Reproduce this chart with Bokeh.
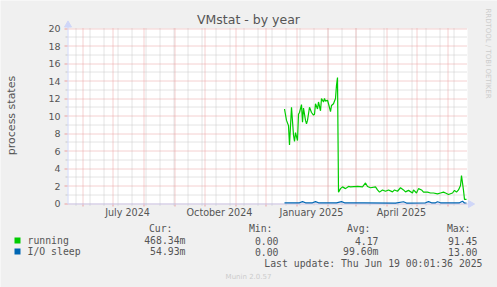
import math
import pandas as pd
from bokeh.plotting import figure
from bokeh.models import Range1d
from bokeh.core.properties import value
from bokeh.embed import file_html
from bokeh.resources import INLINE

# ---------------- data ----------------
title_text = "VMstat - by year"
y_label = "process states"
x_start = "2024-05-17"
x_end = "2025-06-21"
y_ticks = [0, 2, 4, 6, 8, 10, 12, 14, 16, 18, 20]
y_minor = [1, 3, 5, 7, 9, 11, 13, 15, 17, 19]
label_dates = ["2024-07-16", "2024-10-16", "2025-01-16", "2025-04-16"]
x_labels = ["July 2024", "October 2024", "January 2025", "April 2025"]

running_dates = ["2024-12-20", "2024-12-22", "2024-12-24", "2024-12-25", "2024-12-27", "2024-12-29", "2024-12-30", "2024-12-31",
                 "2025-01-02", "2025-01-03", "2025-01-04", "2025-01-06", "2025-01-07", "2025-01-08", "2025-01-10", "2025-01-11",
                 "2025-01-12", "2025-01-14", "2025-01-16", "2025-01-18", "2025-01-19", "2025-01-20", "2025-01-22", "2025-01-23",
                 "2025-01-25", "2025-01-26", "2025-01-28", "2025-01-29", "2025-01-30",
                 "2025-02-01", "2025-02-02", "2025-02-04", "2025-02-05", "2025-02-07", "2025-02-09", "2025-02-10", "2025-02-11",
                 "2025-02-12", "2025-02-14", "2025-02-16", "2025-02-19", "2025-02-22", "2025-02-24",
                 "2025-03-03", "2025-03-08", "2025-03-11", "2025-03-13", "2025-03-16", "2025-03-21", "2025-03-23", "2025-03-25",
                 "2025-03-28", "2025-03-31",
                 "2025-04-03", "2025-04-07", "2025-04-09", "2025-04-12", "2025-04-15", "2025-04-18", "2025-04-20", "2025-04-23",
                 "2025-04-27", "2025-04-28",
                 "2025-05-01", "2025-05-03", "2025-05-06", "2025-05-08", "2025-05-12", "2025-05-15", "2025-05-18", "2025-05-22",
                 "2025-05-25", "2025-05-28", "2025-05-30",
                 "2025-06-02", "2025-06-06", "2025-06-08", "2025-06-10", "2025-06-12", "2025-06-14", "2025-06-15", "2025-06-17",
                 "2025-06-18", "2025-06-20"]
running_values = [10.8, 9.5, 8.9, 6.7, 11.0, 7.8, 7.1, 8.1,
                  7.2, 10.2, 10.4, 11.3, 9.3, 10.9, 9.5, 9.1,
                  9.5, 11.0, 10.4, 10.1, 10.2, 11.4, 10.8, 11.6,
                  10.6, 12.0, 11.6, 12.0, 11.7,
                  11.8, 11.4, 10.5, 11.2, 11.4, 12.0, 13.5, 14.4,
                  1.3, 1.7, 1.9, 1.7, 1.95, 1.9,
                  1.95, 1.9, 2.35, 1.95, 1.8, 1.9, 1.55, 1.3,
                  1.55, 1.4,
                  1.55, 1.33, 1.55, 1.4, 1.8, 1.55, 1.33, 1.5,
                  1.2, 1.55,
                  1.2, 1.7, 1.55, 1.3, 1.3, 1.2, 1.2, 1.1,
                  1.2, 1.3, 1.2,
                  1.03, 1.2, 1.5, 1.3, 1.55, 2.05, 3.2, 1.5,
                  0.47, 0.47]

io_dates = ["2024-12-20", "2025-01-04", "2025-01-07", "2025-01-10", "2025-01-17", "2025-01-20", "2025-01-23",
            "2025-02-10", "2025-02-15", "2025-02-18", "2025-03-10", "2025-04-10", "2025-04-18", "2025-04-21",
            "2025-05-10", "2025-05-13", "2025-05-16", "2025-05-20", "2025-05-22", "2025-05-25", "2025-06-13",
            "2025-06-16", "2025-06-18", "2025-06-20"]
io_values = [0.08, 0.08, 0.22, 0.08, 0.08, 0.22, 0.08, 0.08, 0.22, 0.08, 0.08, 0.05, 0.2, 0.05,
             0.08, 0.22, 0.08, 0.08, 0.2, 0.08, 0.08, 0.25, 0.06, 0.06]

series_names = ["running", "I/O sleep"]
series_colors = ["#00CC00", "#0066B3"]
stat_headers = ["Cur:", "Min:", "Avg:", "Max:"]
cur_vals = ["468.34m", "54.93m"]
min_vals = ["0.00", "0.00"]
avg_vals = ["4.17", "99.60m"]
max_vals = ["91.45", "13.00"]
last_update = "Last update: Thu Jun 19 00:01:36 2025"
version_text = "Munin 2.0.57"
watermark = "RRDTOOL / TOBI OETIKER"

# ---------------- layout constants ----------------
W, H = 497, 287
FL, FT, FR, FB = 67, 28, 467, 203   # plot-area edges in canvas pixels (top-down)
FONT = value("DejaVu Sans")
MONO = value("DejaVu Sans Mono")
TXT = "#555555"
AXIS_C = "#CFD6F8"
MGRID = "#EBA0A0"
GRID = "#C8C8C8"

xs = pd.Timestamp(x_start)
xe = pd.Timestamp(x_end)
px_t = (xe - xs) / (FR - FL)            # time per pixel
YMIN, YMAX = y_ticks[0], y_ticks[-1]
px_v = (YMAX - YMIN) / (FB - FT)        # value per pixel


def crisp_v(v):
    """shift a value so that its 1px line falls on a pixel centre"""
    pix = FB - (v - YMIN) / px_v
    return v + (pix - (math.floor(pix) + 0.5)) * px_v


HALF_T = px_t / 2                       # half-pixel shift for crisp vertical lines

# the canvas is one frame; pixel ranges for decorations, extra ranges for the data scales
p = figure(width=W, height=H, x_axis_type=None, y_axis_type=None,
           x_range=Range1d(0, W), y_range=Range1d(H, 0),
           output_backend="svg", toolbar_location=None, min_border=0)
p.extra_x_ranges = {"t": Range1d(xs - FL * px_t, xe + (W - FR) * px_t)}
p.extra_y_ranges = {"v": Range1d(YMIN - (H - FB) * px_v, YMAX + FT * px_v)}
p.background_fill_color = "#F0F0F0"
p.border_fill_color = "#F0F0F0"
p.outline_line_color = None
D = dict(x_range_name="t", y_range_name="v")

month_starts = [t + HALF_T for t in pd.date_range("2024-06-01", "2025-06-01", freq="MS")]
biweekly = [t + HALF_T for t in pd.date_range("2024-05-25", "2025-06-14", freq="14D")]
yt = [crisp_v(v) for v in y_ticks]
ym = [crisp_v(v) for v in y_minor]
x0c = xs + HALF_T

# plot area
p.quad(left=[xs], right=[xe], bottom=[YMIN], top=[YMAX], fill_color="#FFFFFF", line_color=None, **D)

# grid: minor (grey dotted) then major (red dotted)
p.segment(x0=biweekly, x1=biweekly, y0=[YMIN] * len(biweekly), y1=[YMAX] * len(biweekly),
          line_color=GRID, line_dash="1 1", line_width=1, **D)
p.segment(x0=[xs] * len(ym), x1=[xe] * len(ym), y0=ym, y1=ym,
          line_color=GRID, line_dash="1 1", line_width=1, **D)
p.segment(x0=month_starts, x1=month_starts, y0=[YMIN] * len(month_starts), y1=[YMAX] * len(month_starts),
          line_color=MGRID, line_dash="1 1", line_width=1, **D)
p.segment(x0=[xs] * len(yt), x1=[xe] * len(yt), y0=yt, y1=yt,
          line_color=MGRID, line_dash="1 1", line_width=1, **D)

# tick marks
p.segment(x0=month_starts, x1=month_starts, y0=[YMIN] * len(month_starts),
          y1=[YMIN - 3 * px_v] * len(month_starts), line_color=MGRID, line_width=1, **D)
p.segment(x0=biweekly, x1=biweekly, y0=[YMIN] * len(biweekly),
          y1=[YMIN - 2 * px_v] * len(biweekly), line_color=GRID, line_width=1, **D)
p.segment(x0=[xs] * len(yt), x1=[xs - 3 * px_t] * len(yt), y0=yt, y1=yt,
          line_color=MGRID, line_width=1, **D)
p.segment(x0=[xs] * len(ym), x1=[xs - 2 * px_t] * len(ym), y0=ym, y1=ym,
          line_color=GRID, line_width=1, **D)

# axis lines with arrows
ax_y = crisp_v(YMIN)
p.segment(x0=[x0c, x0c], x1=[xe + 3 * px_t, x0c], y0=[ax_y, ax_y], y1=[ax_y, YMAX + 3 * px_v],
          line_color=AXIS_C, line_width=1, **D)
p.scatter(x=[x0c, xe + 3 * px_t], y=[YMAX + 3.5 * px_v, ax_y], marker="triangle", size=7,
          angle=[0, -math.pi / 2], fill_color=AXIS_C, line_color=AXIS_C, **D)

# data lines
p.line(pd.to_datetime(running_dates), running_values, line_color=series_colors[0], line_width=1.2, **D)
p.line(pd.to_datetime(io_dates), io_values, line_color=series_colors[1], line_width=1.2, **D)

# axis tick labels
p.text(x=pd.to_datetime(label_dates), y=[212] * len(label_dates), text=x_labels, x_range_name="t",
       text_font=FONT, text_font_size="9.6px", text_color=TXT, text_align="center", text_baseline="middle")
p.text(x=[FL - 7] * len(y_ticks), y=y_ticks, text=[str(v) for v in y_ticks], y_range_name="v",
       text_font=FONT, text_font_size="9.5px", text_color=TXT, text_align="right", text_baseline="middle")


def txt(X, Y, text, font=FONT, size="9.8px", color=TXT, align="left", angle=0.0):
    p.text(x=[X], y=[Y], text=[text], text_font=font, text_font_size=size, text_color=color,
           text_align=align, text_baseline="middle", angle=angle)


txt(11, 115, y_label, size="11px", align="center", angle=math.pi / 2)
txt(248, 19, title_text, size="12.5px", align="center")
txt(487, 53, watermark, size="7px", color="#CCCCCC", align="center", angle=-math.pi / 2)

# legend / stats
hdr_x = [172, 272, 370, 470]
for hx, h in zip(hdr_x, stat_headers):
    txt(hx, 228, h, font=MONO, align="right")
col_x = [185, 278, 378, 477]
row_y = [240, 251]
p.quad(left=[14, 14], right=[20, 20], top=[y - 3 for y in row_y], bottom=[y + 3 for y in row_y],
       fill_color=series_colors, line_color=None)
for i, name in enumerate(series_names):
    y = row_y[i]
    txt(27, y, name, font=MONO)
    for cx, vals in zip(col_x, (cur_vals, min_vals, avg_vals, max_vals)):
        txt(cx, y, vals[i], font=MONO, align="right")

txt(482, 263, last_update, font=MONO, align="right")
txt(248, 276, version_text, size="7px", color="#CCCCCC", align="center")

open("out.html", "w").write(file_html(p, INLINE))
